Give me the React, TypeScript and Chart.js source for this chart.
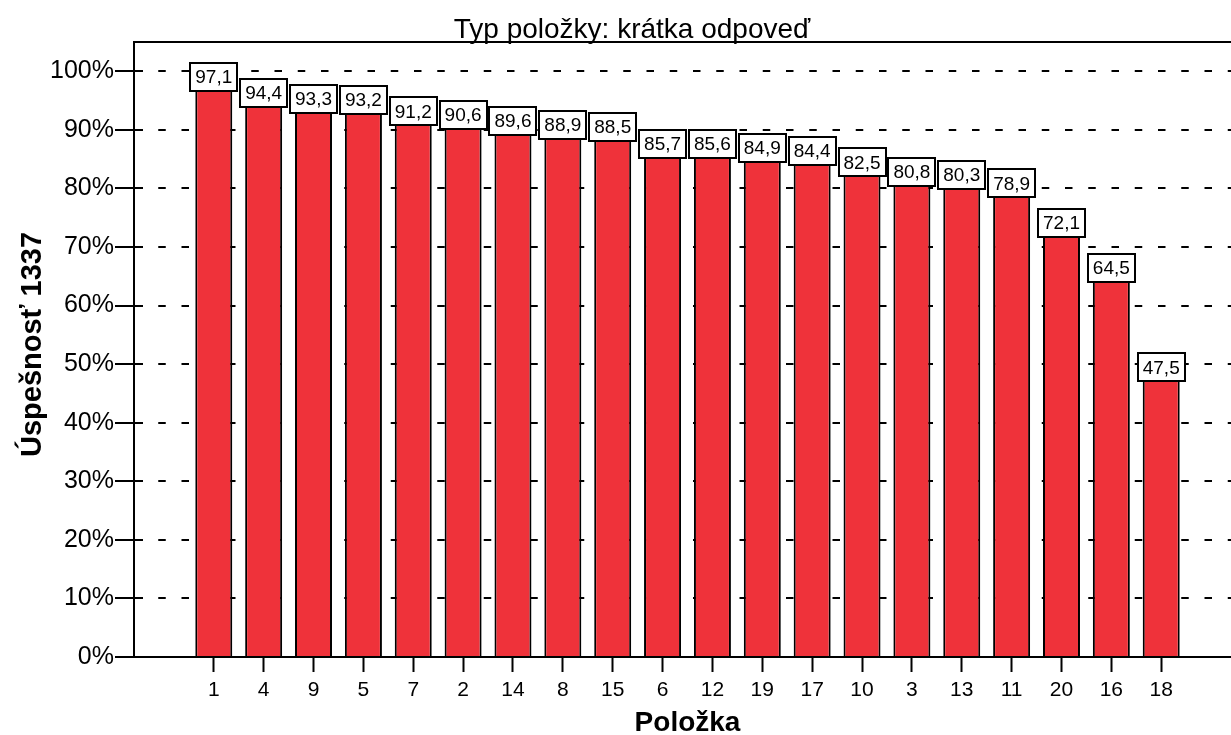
import React, { useEffect, useRef } from 'react';
import { Chart, registerables } from 'chart.js';

Chart.register(...registerables);

// Item numbers, in the order shown along the horizontal axis
const items = ['1', '4', '9', '5', '7', '2', '14', '8', '15', '6', '12', '19', '17', '10', '3', '13', '11', '20', '16', '18'];
// Success rate of each item, in percent
const successRates = [97.1, 94.4, 93.3, 93.2, 91.2, 90.6, 89.6, 88.9, 88.5, 85.7, 85.6, 84.9, 84.4, 82.5, 80.8, 80.3, 78.9, 72.1, 64.5, 47.5];
// Percent ticks on the vertical axis
const yTickValues = [0, 10, 20, 30, 40, 50, 60, 70, 80, 90, 100];

const chartTitle = 'Typ položky: krátka odpoveď';
const xAxisTitle = 'Položka';
const yAxisTitle = 'Úspešnosť 1337';

const FONT = "'Liberation Sans', Arial, Helvetica, sans-serif";
const BAR_RED = '#EF323A';

const formatValue = (v: number) => v.toFixed(1).replace('.', ',');

// Frame, inner tick marks, value boxes and titles
const decorations = {
  id: 'decorations',
  beforeDatasetsDraw(chart: any) {
    const { ctx, chartArea: a, scales } = chart;
    const y = scales.y;
    ctx.save();
    ctx.strokeStyle = '#000';
    ctx.lineWidth = 2;
    y.ticks.forEach((t: any) => {
      const py = Math.round(y.getPixelForValue(t.value));
      ctx.beginPath();
      ctx.moveTo(a.left, py);
      ctx.lineTo(a.left + 9, py);
      ctx.stroke();
    });
    ctx.restore();
  },
  afterDatasetsDraw(chart: any) {
    const { ctx, chartArea: a } = chart;
    ctx.save();
    ctx.strokeStyle = '#000';
    ctx.lineWidth = 2;
    // top frame and bottom axis line over the bar bases
    ctx.beginPath();
    ctx.moveTo(a.left - 1, a.top);
    ctx.lineTo(a.right, a.top);
    ctx.moveTo(a.left - 1, a.bottom);
    ctx.lineTo(a.right, a.bottom);
    ctx.stroke();

    // value boxes above the bars
    const meta = chart.getDatasetMeta(0);
    ctx.font = `19px ${FONT}`;
    ctx.textAlign = 'center';
    ctx.textBaseline = 'middle';
    meta.data.forEach((bar: any, i: number) => {
      const text = formatValue(successRates[i]);
      const w = Math.round(ctx.measureText(text).width + 10);
      const h = 28;
      const cx = bar.x;
      const cy = bar.y - 11.5;
      const left = Math.round(cx - w / 2);
      const top = Math.round(cy - h / 2);
      ctx.fillStyle = '#fff';
      ctx.fillRect(left, top, w, h);
      ctx.strokeRect(left, top, w, h);
      ctx.fillStyle = '#000';
      ctx.fillText(text, cx, cy + 1);
    });

    // chart title
    ctx.textBaseline = 'alphabetic';
    ctx.font = `28px ${FONT}`;
    ctx.fillText(chartTitle, 632, 38);

    // axis titles
    ctx.font = `bold 28px ${FONT}`;
    ctx.fillText(xAxisTitle, (a.left + a.right) / 2, 731);

    ctx.translate(41, (a.top + a.bottom) / 2 - 5);
    ctx.rotate(-Math.PI / 2);
    ctx.font = `bold 29px ${FONT}`;
    ctx.fillText(yAxisTitle, 0, 0);
    ctx.restore();
  },
};

export default function App() {
  const canvasRef = useRef<HTMLCanvasElement | null>(null);

  useEffect(() => {
    const canvas = canvasRef.current;
    if (!canvas) return;
    const chart = new Chart(canvas, {
      type: 'bar',
      data: {
        datasets: [
          {
            data: successRates.map((v, i) => ({ x: i, y: v })),
            backgroundColor: BAR_RED,
            borderColor: '#000',
            borderWidth: 2,
            borderSkipped: 'bottom',
            categoryPercentage: 1,
            barPercentage: 0.742,
          },
        ],
      },
      options: {
        responsive: false,
        animation: false,
        layout: { padding: { top: 42, right: 9, bottom: 0, left: 0 } },
        plugins: {
          legend: { display: false },
          title: { display: false },
          tooltip: { enabled: false },
        },
        scales: {
          x: {
            type: 'linear',
            offset: false,
            min: -1.6,
            max: 20.6,
            afterBuildTicks: (s: any) => {
              s.ticks = items.map((_, i) => ({ value: i }));
            },
            afterFit: (s: any) => {
              s.height = 78;
            },
            ticks: {
              autoSkip: false,
              maxRotation: 0,
              padding: 6,
              color: '#000',
              font: { family: FONT, size: 21 },
              callback: (v: any) => items[v] ?? '',
            },
            grid: {
              offset: false,
              drawOnChartArea: false,
              drawTicks: true,
              tickLength: 15,
              tickWidth: 2,
              tickColor: '#000',
            },
            border: { display: true, color: '#000', width: 2 },
          },
          y: {
            type: 'linear',
            min: 0,
            max: 105,
            afterBuildTicks: (s: any) => {
              s.ticks = yTickValues.map((v) => ({ value: v }));
            },
            afterFit: (s: any) => {
              s.width = 134;
            },
            ticks: {
              padding: 1,
              color: '#000',
              font: { family: FONT, size: 25 },
              callback: (v: any) => `${v}%`,
            },
            grid: {
              color: '#000',
              lineWidth: 2,
              drawTicks: true,
              tickLength: 19,
              tickWidth: 2,
              tickColor: '#000',
              tickBorderDash: [],
            },
            border: { display: true, color: '#000', width: 2, dash: [7.5, 15.75] },
          },
        },
      },
      plugins: [decorations],
    });
    return () => chart.destroy();
  }, []);

  return (
    <div style={{ position: 'absolute', left: 0, top: 0, width: 1231, height: 735, overflow: 'hidden', background: '#fff' }}>
      <canvas ref={canvasRef} width={1250} height={735} style={{ display: 'block' }} />
    </div>
  );
}
